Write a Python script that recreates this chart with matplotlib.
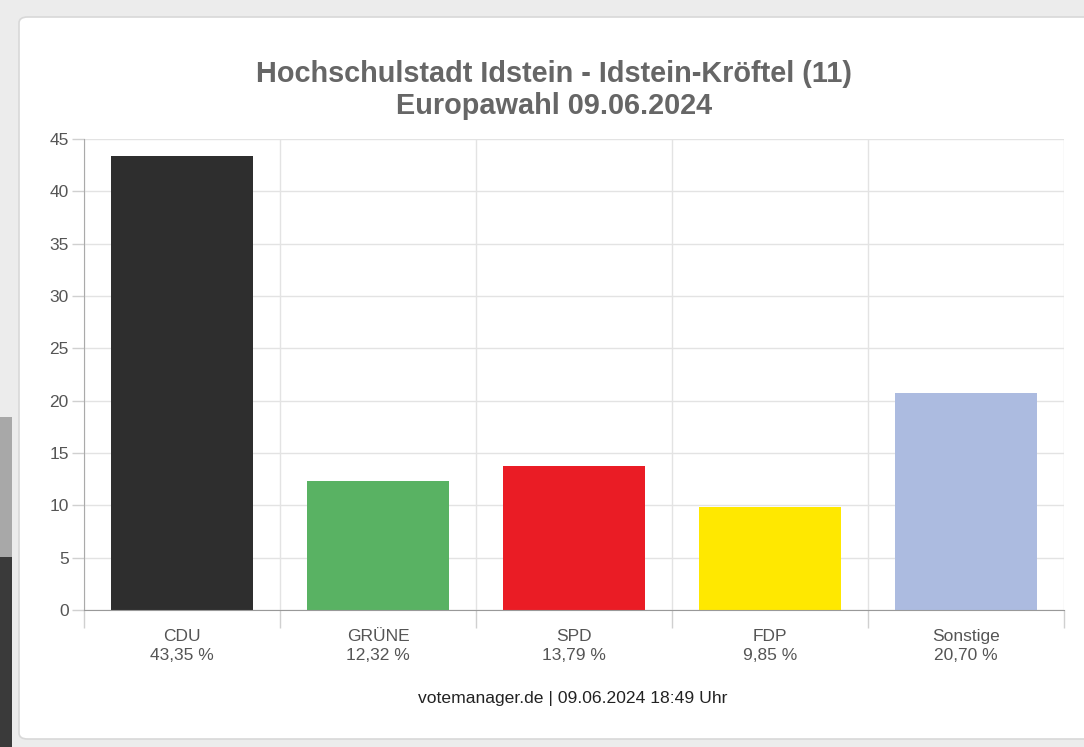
import matplotlib
matplotlib.use('Agg')
import matplotlib.pyplot as plt
from matplotlib.patches import FancyBboxPatch, Rectangle

# election result data
parties = ['CDU', 'GRÜNE', 'SPD', 'FDP', 'Sonstige']
shares = [43.35, 12.32, 13.79, 9.85, 20.70]
share_labels = ['43,35 %', '12,32 %', '13,79 %', '9,85 %', '20,70 %']
colors = ['#2e2e2e', '#59b263', '#ea1c25', '#ffe800', '#acbbe0']
y_ticks = [0, 5, 10, 15, 20, 25, 30, 35, 40, 45]

title = 'Hochschulstadt Idstein - Idstein-Kröftel (11)\nEuropawahl 09.06.2024'
footer = 'votemanager.de | 09.06.2024 18:49 Uhr'

plt.rcParams['font.family'] = ['Liberation Sans', 'DejaVu Sans']

W, H = 1084, 747
fig = plt.figure(figsize=(W / 100, H / 100), dpi=100)
fig.patch.set_facecolor('#ececec')

# dark photo strip on the left edge and card background
fig.patches.append(Rectangle((0, 0), 12 / W, 190 / H, transform=fig.transFigure,
                             facecolor='#3a3a3a', edgecolor='none', zorder=0))
fig.patches.append(Rectangle((0, 190 / H), 12 / W, 140 / H, transform=fig.transFigure,
                             facecolor='#a8a8a8', edgecolor='none', zorder=0))
card = FancyBboxPatch((19 / W, 8 / H), 1.1, (739 - 17) / H,
                      boxstyle='round,pad=0,rounding_size=0.008',
                      transform=fig.transFigure, facecolor='white',
                      edgecolor='#d8d8d8', linewidth=1.2, zorder=0.1)
fig.patches.append(card)

ax = fig.add_axes([84 / W, (H - 610) / H, (1064 - 84) / W, (610 - 139) / H])
ax.set_zorder(2)
ax.set_facecolor('none')

x = list(range(len(parties)))
ax.bar(x, shares, width=0.72, color=colors, zorder=3)

ax.set_xlim(-0.5, len(parties) - 0.5)
ax.set_ylim(0, 45)
ax.set_yticks(y_ticks)
ax.set_yticklabels([str(t) for t in y_ticks], fontsize=12.5, color='#555555')
ax.tick_params(axis='y', length=9, color='#d0d0d0', width=1, pad=2)

# category boundaries as minor ticks / vertical grid
bounds = [i - 0.5 for i in range(len(parties) + 1)]
ax.set_xticks(bounds, minor=True)
ax.set_xticks(x)
ax.set_xticklabels([f'{p}\n{s}' for p, s in zip(parties, share_labels)],
                   fontsize=12.5, color='#555555', linespacing=1.3)
ax.tick_params(axis='x', which='major', length=0, pad=14)
ax.tick_params(axis='x', which='minor', length=13, color='#d0d0d0', width=1)

ax.grid(axis='y', color='#e3e3e3', linewidth=1, zorder=0)
ax.grid(axis='x', which='minor', color='#e3e3e3', linewidth=1, zorder=0)

for side in ['top', 'right']:
    ax.spines[side].set_visible(False)
ax.spines['left'].set_color('#aaaaaa')
ax.spines['bottom'].set_color('#999999')
ax.spines['left'].set_zorder(4)
ax.spines['bottom'].set_zorder(4)

fig.text(554 / W, 1 - 90 / H, title, ha='center', va='center', fontsize=20.8,
         fontweight='bold', color='#666666', linespacing=1.2)
fig.text(573 / W, 1 - 698 / H, footer, ha='center', va='center', fontsize=12.6,
         color='#222222')

fig.savefig('out.png', dpi=100, facecolor=fig.get_facecolor())
